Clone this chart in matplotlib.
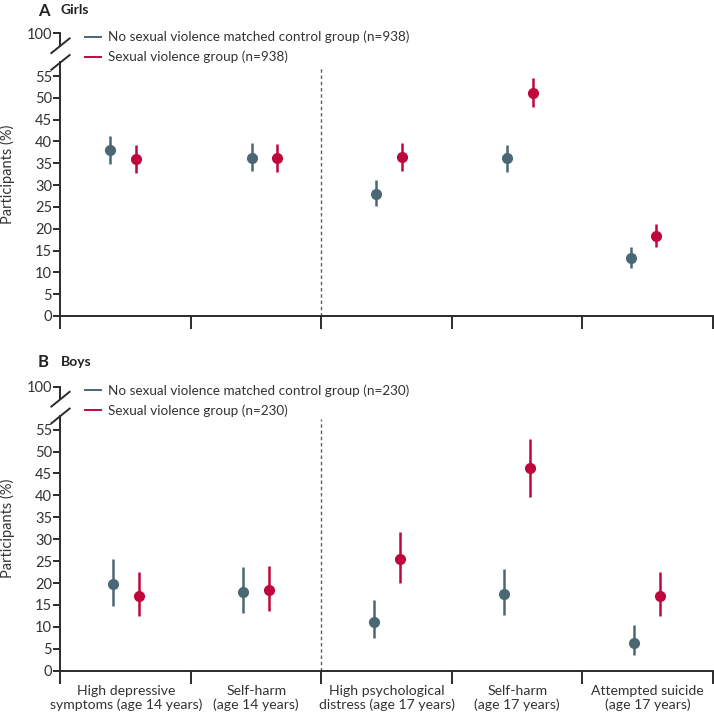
import numpy as np
import matplotlib
matplotlib.use("Agg")
import matplotlib.pyplot as plt
from matplotlib.lines import Line2D

plt.rcParams["font.family"] = ["Lato", "DejaVu Sans"]

categories = [
    "High depressive\nsymptoms (age 14 years)",
    "Self-harm\n(age 14 years)",
    "High psychological\ndistress (age 17 years)",
    "Self-harm\n(age 17 years)",
    "Attempted suicide\n(age 17 years)",
]

girls_control = [38.0, 36.3, 28.0, 36.1, 13.3]
girls_control_lo = [34.8, 33.2, 25.1, 32.9, 11.1]
girls_control_hi = [41.2, 39.6, 31.1, 39.3, 15.8]
girls_sv = [36.0, 36.2, 36.4, 51.2, 18.3]
girls_sv_lo = [32.8, 33.1, 33.3, 47.8, 15.7]
girls_sv_hi = [39.2, 39.4, 39.6, 54.5, 21.1]

boys_control = [19.7, 17.9, 11.1, 17.5, 6.3]
boys_control_lo = [14.7, 13.2, 7.4, 12.8, 3.5]
boys_control_hi = [25.5, 23.6, 16.1, 23.2, 10.4]
boys_sv = [17.0, 18.3, 25.4, 46.2, 17.0]
boys_sv_lo = [12.4, 13.7, 20.0, 39.6, 12.4]
boys_sv_hi = [22.6, 24.0, 31.6, 52.9, 22.6]

y_ticks = [0, 5, 10, 15, 20, 25, 30, 35, 40, 45, 50, 55, 100]

# layout only: small horizontal shift of each pair within its category
girls_shift = [-0.021, 0.063, 0.018, 0.021, -0.031]
boys_shift = [0, 0, 0, 0, -0.005]

C_CTRL = "#4a6874"
C_SV = "#c0073c"
C_AX = "#2b2b2b"
C_TXT = "#333333"


def fwd(y):
    y = np.asarray(y, dtype=float)
    return np.where(y <= 60, y, 60 + (y - 60) * 0.12)


def inv(z):
    z = np.asarray(z, dtype=float)
    return np.where(z <= 60, z, 60 + (z - 60) / 0.12)


def draw_panel(ax, ctrl, ctrl_lo, ctrl_hi, sv, sv_lo, sv_hi, shift, n, show_labels):
    ax.set_yscale("function", functions=(fwd, inv))
    ax.set_ylim(0, 100)
    ax.set_xlim(0, 5)
    x = np.arange(5) + 0.5 + np.array(shift)
    off = 0.098
    ctrl = np.array(ctrl)
    sv = np.array(sv)
    ax.errorbar(x - off, ctrl,
                yerr=[ctrl - np.array(ctrl_lo), np.array(ctrl_hi) - ctrl],
                fmt="o", color=C_CTRL, ms=7, elinewidth=1.8, capsize=0, zorder=3)
    ax.errorbar(x + off, sv,
                yerr=[sv - np.array(sv_lo), np.array(sv_hi) - sv],
                fmt="o", color=C_SV, ms=7, elinewidth=1.8, capsize=0, zorder=3)

    # dashed separator between age 14 and age 17 outcomes
    ax.plot([2, 2], [0, 57.4], ls=(0, (2.5, 2)), color=C_CTRL, lw=1, zorder=1)

    for s in ["top", "right", "left"]:
        ax.spines[s].set_visible(False)
    ax.spines["bottom"].set_color(C_AX)
    ax.spines["bottom"].set_linewidth(1.4)

    # broken left spine
    tr = ax.transAxes
    ax.plot([0, 0], [0, 0.897], transform=tr, color=C_AX, lw=1.4, clip_on=False)
    ax.plot([0, 0], [0.956, 1.0], transform=tr, color=C_AX, lw=1.4, clip_on=False)
    dx, dy = 0.0140, 0.026
    for yc in [0.956, 0.897]:
        ax.plot([-dx, dx], [yc - dy, yc + dy], transform=tr, color=C_AX,
                lw=1.4, clip_on=False)

    ax.set_yticks(y_ticks)
    ax.set_yticklabels([str(t) for t in y_ticks])
    ax.tick_params(axis="y", length=5, width=1.4, color=C_AX, labelsize=10.5,
                   labelcolor=C_TXT, pad=1)
    ax.set_xticks(range(6))
    ax.set_xticklabels([])
    ax.tick_params(axis="x", which="major", length=9, width=1.4, color=C_AX)
    ax.set_xticks(np.arange(5) + 0.5, minor=True)
    if show_labels:
        ax.set_xticklabels(categories, minor=True)
    ax.tick_params(axis="x", which="minor", length=0, labelsize=10.1,
                   labelcolor=C_TXT, pad=10)

    ax.set_ylabel("Participants (%)", fontsize=10.5, color=C_TXT)
    ax.yaxis.set_label_coords(-0.069, 0.5)

    handles = [
        Line2D([], [], color=C_CTRL, lw=1.4),
        Line2D([], [], color=C_SV, lw=1.4),
    ]
    labels = [
        f"No sexual violence matched control group (n={n})",
        f"Sexual violence group (n={n})",
    ]
    ax.legend(handles, labels, loc="upper left", bbox_to_anchor=(0.030, 1.028),
              frameon=False, fontsize=9.7, handlelength=1.15, handletextpad=0.5,
              labelspacing=0.55, borderaxespad=0, labelcolor=C_TXT)


fig = plt.figure(figsize=(7.14, 7.16), dpi=100)
ax_g = fig.add_axes([0.0847, 0.5587, 0.9139, 0.3948])
ax_b = fig.add_axes([0.0847, 0.0633, 0.9139, 0.3966])

draw_panel(ax_g, girls_control, girls_control_lo, girls_control_hi,
           girls_sv, girls_sv_lo, girls_sv_hi, girls_shift, 938, False)
draw_panel(ax_b, boys_control, boys_control_lo, boys_control_hi,
           boys_sv, boys_sv_lo, boys_sv_hi, boys_shift, 230, True)

fig.text(0.053, 0.996, "A", fontsize=12, fontweight="bold", color="#222222",
         va="top")
fig.text(0.085, 0.994, "Girls", fontsize=10, fontweight="bold", color="#222222",
         va="top")
fig.text(0.053, 0.505, "B", fontsize=12, fontweight="bold", color="#222222",
         va="top")
fig.text(0.085, 0.503, "Boys", fontsize=10, fontweight="bold", color="#222222",
         va="top")

fig.savefig("out.png", dpi=100)
